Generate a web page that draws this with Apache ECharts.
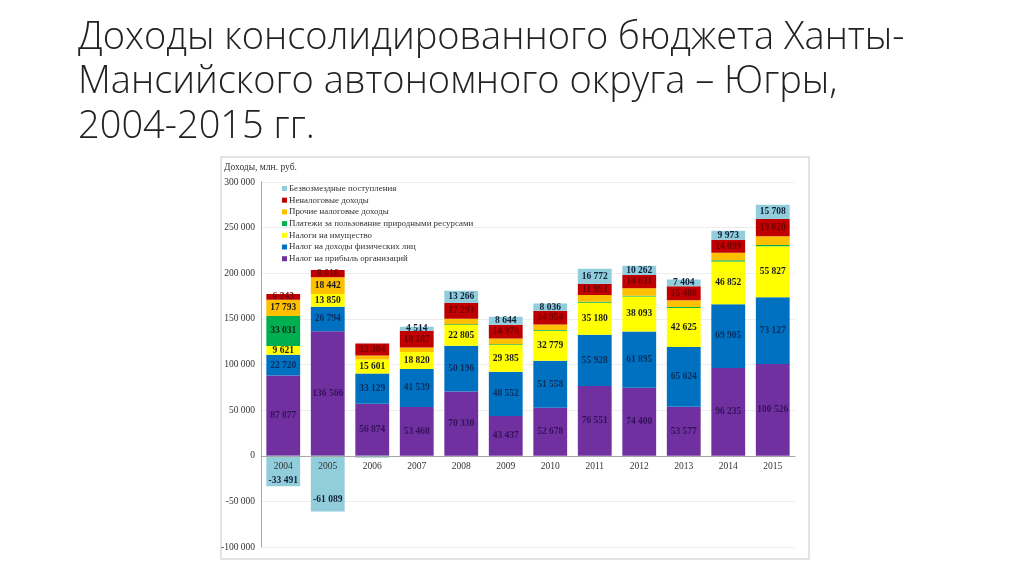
<!DOCTYPE html>
<html><head><meta charset="utf-8">
<script src="https://cdn.jsdelivr.net/npm/echarts@6/dist/echarts.min.js"></script>
<style>html,body{margin:0;padding:0;background:#fff}#c{width:1024px;height:574px}</style>
</head><body><div id="c"></div>
<script>
const years = ['2004','2005','2006','2007','2008','2009','2010','2011','2012','2013','2014','2015'];
const profitTax   = [87877,136566,56874,53468,70330,43437,52678,76551,74400,53577,96235,100526];
const incomeTax   = [22720,26794,33129,41539,50196,48552,51558,55928,61895,65624,69905,73127];
const propertyTax = [9621,13850,15601,18820,22805,29385,32779,35180,38093,42625,46852,55827];
const resourcePay = [33031,0,0,0,800,900,900,1000,1000,1100,1300,1400];
const otherTax    = [17793,18442,4232,4928,6048,6346,6052,7464,8043,7350,8237,9553];
const nonTax      = [6243,8016,13304,18187,17293,14978,14954,11993,14631,15408,14099,19020];
const grants      = [-33491,-61089,-2181,4514,13266,8644,8036,16772,10262,7404,9973,15708];
const yTicks = [-100000,-50000,0,50000,100000,150000,200000,250000,300000];
const titleLines = ['Доходы консолидированного бюджета Ханты-','Мансийского автономного округа – Югры,','2004-2015 гг.'];
const unitLabel = 'Доходы, млн. руб.';

const fmt = v => { const s = Math.abs(Math.round(v)).toString().replace(/\B(?=(\d{3})+(?!\d))/g,' '); return (v<0?'-':'')+s; };
const serif = 'Liberation Serif';

function mk(name, data, color, labelColor, minShow) {
  return {
    name, type:'bar', stack:'t', data, barCategoryGap:'24%',
    itemStyle:{color},
    label:{show:true, position:'inside', fontFamily:serif, fontWeight:'bold', fontSize:9.5, color:labelColor,
      formatter: p => Math.abs(p.value) >= minShow ? fmt(p.value) : ''}
  };
}

const chart = echarts.init(document.getElementById('c'), null, {renderer:'canvas'});
const series = [
  mk('Налог на прибыль организаций', profitTax, '#7030a0', '#34125a', 0),
  mk('Налог на доходы физических лиц', incomeTax, '#0070c0', '#0a2f5e', 0),
  mk('Налоги на имущество', propertyTax, '#ffff00', '#1a1a1a', 0),
  mk('Платежи за пользование природными ресурсами', resourcePay, '#00b050', '#1a1a1a', 12000),
  mk('Прочие налоговые доходы', otherTax, '#ffc000', '#1a1a1a', 12000),
  mk('Неналоговые доходы', nonTax, '#c00000', '#6e0000', 0),
  mk('Безвозмездные поступления', grants, '#92cddc', '#10203a', 3000)
];
// negative labels sit a little below the centre of their bars (under the year labels)
series[6].data = grants.map(v => v < 0 ? {value:v, label:{offset:[0, 1.4 + Math.abs(v)/4300]}} : v);

const gridTop = 182, gridBottom = 547;
const zeroY = gridTop + (gridBottom-gridTop) * (yTicks[yTicks.length-1] / (yTicks[yTicks.length-1]-yTicks[0]));

const graphics = [
  {type:'rect', shape:{x:221,y:157,width:588,height:402}, style:{fill:'none', stroke:'#dcdcdc', lineWidth:1.5}, silent:true},
  {type:'text', left:224, top:162, style:{text:unitLabel, font:'9.5px "Liberation Serif"', fill:'#333'}}
];
titleLines.forEach((t,i)=>{
  graphics.push({type:'text', x:78, y:38+i*44.5, style:{text:t, font:'300 38px "Open Sans"', fill:'#222', verticalAlign:'middle'}});
});

chart.setOption({
  backgroundColor:'#fff',
  animation:false,
  graphic:graphics,
  legend:{
    orient:'vertical', left:277, top:178.5,
    data:series.map(s=>s.name).reverse(),
    icon:'rect', itemWidth:5, itemHeight:5, itemGap:1.7,
    textStyle:{fontFamily:serif, fontSize:8.9, color:'#333', lineHeight:10, padding:[0,0,0,-3]},
    selectedMode:false
  },
  grid:{left:261, right:229, top:gridTop, bottom:574-gridBottom, containLabel:false},
  xAxis:{type:'category', data:years, position:'bottom', offset:-(gridBottom-zeroY),
    axisLine:{onZero:false, lineStyle:{color:'#a6a6a6'}}, axisTick:{show:false},
    axisLabel:{fontFamily:serif, fontSize:9.5, color:'#333', margin:6}, z:10},
  yAxis:{type:'value', min:yTicks[0], max:yTicks[yTicks.length-1], interval:50000,
    axisLine:{show:true, lineStyle:{color:'#a6a6a6'}}, axisTick:{show:false},
    splitLine:{lineStyle:{color:'#ededed'}},
    axisLabel:{fontFamily:serif, fontSize:9.5, color:'#333', margin:6, formatter:v=>fmt(v)}},
  series
});
</script></body></html>
